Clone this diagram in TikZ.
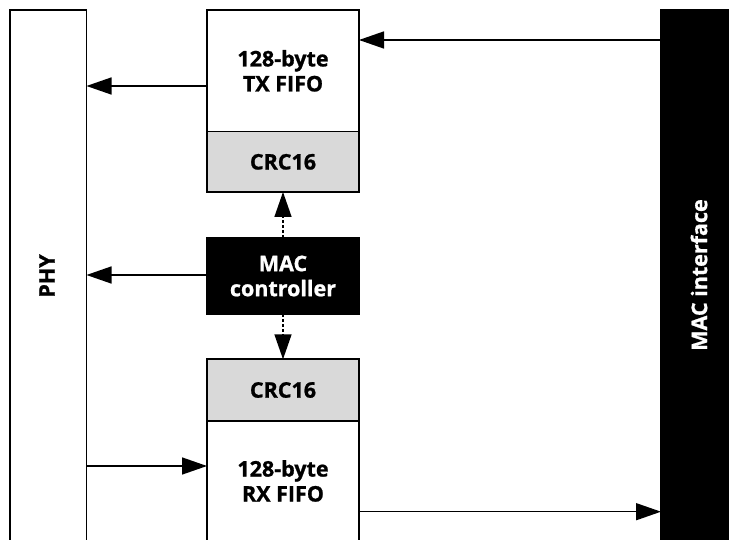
\documentclass[tikz,border=0pt]{standalone}
\usepackage{fontspec}
\setmainfont{Open Sans}[BoldFeatures={FakeBold=1}]
\usetikzlibrary{arrows.meta}
\definecolor{crcgray}{HTML}{D9D9D9}
\begin{document}
\begin{tikzpicture}[x=1pt,y=-1pt,
  lbl/.style={font=\fontsize{21.5}{25}\selectfont\bfseries},
  blk/.style={lbl,draw=black,line width=1.6pt,inner sep=0pt,outer sep=0pt,
    minimum width=152pt,align=center},
  side/.style={blk,minimum width=76.5pt,minimum height=531pt},
  arr/.style={line width=1.5pt,-{Triangle[length=25pt,width=17pt]}},
  dotarr/.style={arr,dash pattern=on 3pt off 2pt}
]
\useasboundingbox (0,0) rectangle (729,540);
\clip (0,0) rectangle (729,540);
% side blocks
\node[side] (phy) at (48.25,275.5) {};
\node[lbl,rotate=90] (phytxt) at (47,276) {PHY};
\node[side,fill=black] (macif) at (699.25,275.2) {};
\node[lbl,rotate=90,text=white] (maciftxt) at (699,275) {MAC interface};
% center blocks
\node[blk,minimum height=121.7pt] (txfifo) at (283,70.85) {128-byte\\TX FIFO};
\node[blk,minimum height=60.3pt,fill=crcgray] (txcrc) at (283,161.85) {CRC16};
\node[blk,minimum height=76.6pt,fill=black,text=white] (macctrl) at (283,276) {MAC\\controller};
\node[blk,minimum height=61.4pt,fill=crcgray] (rxcrc) at (283,390) {CRC16};
\node[blk,minimum height=120.6pt] (rxfifo) at (283,481) {128-byte\\RX FIFO};
% connectors
\draw[arr] (macif.west |- 0,40) -- (txfifo.east |- 0,40);
\draw[arr] (txfifo.west |- 0,86) -- (phy.east |- 0,86);
\draw[arr] (macctrl.west |- 0,275) -- (phy.east |- 0,275);
\draw[arr] (phy.east |- 0,466) -- (rxfifo.west |- 0,466);
\draw[arr] (rxfifo.east |- 0,511.7) -- (macif.west |- 0,511.7);
\draw[dotarr] (macctrl.north) -- (txcrc.south);
\draw[dotarr] (macctrl.south) -- (rxcrc.north);
\end{tikzpicture}
\end{document}
